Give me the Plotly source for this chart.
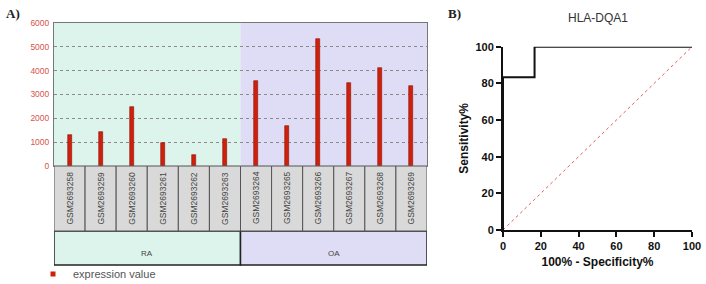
import plotly.graph_objects as go

W, H = 706, 284

samples = ["GSM2693258", "GSM2693259", "GSM2693260", "GSM2693261", "GSM2693262", "GSM2693263",
           "GSM2693264", "GSM2693265", "GSM2693266", "GSM2693267", "GSM2693268", "GSM2693269"]
expression = [1300, 1440, 2460, 950, 480, 1120, 3560, 1670, 5330, 3490, 4100, 3350]
groups = ["RA", "OA"]
group_sizes = [6, 6]
y_ticks_a = [0, 1000, 2000, 3000, 4000, 5000, 6000]

roc_fpr = [0, 0, 16.7, 16.7, 100]
roc_tpr = [0, 83.3, 83.3, 100, 100]
diag = [0, 100]
ticks_b = [0, 20, 40, 60, 80, 100]
roc_title = "HLA-DQA1"

def px(x):
    return x / W

def py(y):
    return 1 - y / H

group_colors = {"RA": "#ddf4ec", "OA": "#dfdcf5"}
bar_color = "#d0200c"

fig = go.Figure()

fig.add_trace(go.Bar(
    x=list(range(len(samples))), y=expression, width=0.13,
    marker=dict(color=bar_color, line=dict(color="#8a1206", width=0.6)),
    name="expression value", xaxis="x", yaxis="y", showlegend=False,
))
fig.add_trace(go.Scatter(
    x=[None], y=[None], mode="markers", marker=dict(symbol="square", size=5, color=bar_color),
    name="expression value", xaxis="x", yaxis="y", showlegend=True,
))

fig.add_trace(go.Scatter(
    x=diag, y=diag, mode="lines", line=dict(color="#e0605a", width=1, dash="dot"),
    xaxis="x2", yaxis="y2", showlegend=False,
))
fig.add_trace(go.Scatter(
    x=roc_fpr, y=roc_tpr, mode="lines", line=dict(color="#111111", width=2),
    xaxis="x2", yaxis="y2", showlegend=False,
))

shapes = []
annotations = []
start = 0
for g, n in zip(groups, group_sizes):
    shapes.append(dict(type="rect", xref="x", yref="paper", x0=start - 0.5, x1=start + n - 0.5,
                       y0=py(166), y1=py(23), fillcolor=group_colors[g], line=dict(width=0), layer="below"))
    shapes.append(dict(type="rect", xref="x", yref="paper", x0=start - 0.5, x1=start + n - 0.5,
                       y0=py(265), y1=py(231), fillcolor=group_colors[g], line=dict(color="#222", width=1.5)))
    annotations.append(dict(text=g, xref="x", yref="paper", x=start + (n - 1) / 2, y=py(253),
                            xanchor="center", yanchor="middle",
                            showarrow=False, font=dict(family="Arial", size=8, color="#444")))
    start += n

for i, s in enumerate(samples):
    shapes.append(dict(type="rect", xref="x", yref="paper", x0=i - 0.5, x1=i + 0.5,
                       y0=py(231), y1=py(166), fillcolor="#d9d9d9", line=dict(color="#555", width=1)))
    annotations.append(dict(text=s, xref="x", yref="paper", x=i, y=py(198), textangle=-90,
                            xanchor="center", yanchor="middle",
                            showarrow=False, font=dict(family="Arial", size=8.5, color="#444")))

annotations += [
    dict(text="<b>A)</b>", xref="paper", yref="paper", x=px(4), y=py(13), xanchor="left", yanchor="middle",
         showarrow=False, font=dict(family="Liberation Serif", size=13, color="#222")),
    dict(text="<b>B)</b>", xref="paper", yref="paper", x=px(446), y=py(13), xanchor="left", yanchor="middle",
         showarrow=False, font=dict(family="Liberation Serif", size=13, color="#222")),
    dict(text=roc_title, xref="paper", yref="paper", x=px(598), y=py(18), xanchor="center",
         yanchor="middle", showarrow=False, font=dict(family="Arial", size=12, color="#333")),
]

fig.update_layout(
    width=W, height=H, margin=dict(l=0, r=0, t=0, b=0, autoexpand=False),
    paper_bgcolor="white", plot_bgcolor="rgba(0,0,0,0)",
    shapes=shapes, annotations=annotations,
    bargap=0,
    xaxis=dict(domain=[px(54), px(427)], range=[-0.5, len(samples) - 0.5], showticklabels=False,
               showgrid=False, zeroline=False, showline=True, linecolor="#777", linewidth=1, mirror=True,
               ticks="", automargin=False),
    yaxis=dict(domain=[py(166), py(23)], range=[0, 6000], tickvals=y_ticks_a,
               tickfont=dict(family="Arial", size=8.5, color="#d9534f"), showgrid=True,
               gridcolor="#8a8a8a", griddash="dot", gridwidth=0.8, zeroline=False, showline=True,
               linecolor="#777", linewidth=1, mirror=True, ticks="", ticklabelstandoff=2, automargin=False),
    xaxis2=dict(domain=[px(503), px(692)], range=[0, 100], tickvals=ticks_b, anchor="y2",
                ticks="outside", ticklen=5, tickwidth=2, tickcolor="#111", showline=True, linecolor="#111",
                linewidth=2, showgrid=False, zeroline=False, automargin=False,
                tickfont=dict(family="Arial", size=11, color="#111", weight="bold"),
                title=dict(text="<b>100% - Specificity%</b>", font=dict(family="Arial", size=12, color="#111"),
                           standoff=6)),
    yaxis2=dict(domain=[py(230), py(46.7)], range=[0, 100], tickvals=ticks_b, anchor="x2",
                ticks="outside", ticklen=5, tickwidth=2, tickcolor="#111", showline=True, linecolor="#111",
                linewidth=2, showgrid=False, zeroline=False, automargin=False,
                tickfont=dict(family="Arial", size=11, color="#111", weight="bold"),
                title=dict(text="<b>Sensitivity%</b>", font=dict(family="Arial", size=12, color="#111"),
                           standoff=4)),
    legend=dict(x=px(33), y=py(274), xanchor="left", yanchor="middle", bgcolor="rgba(0,0,0,0)",
                font=dict(family="Arial", size=11, color="#555"), itemwidth=30, tracegroupgap=0),
)

fig.write_html("out.html")
